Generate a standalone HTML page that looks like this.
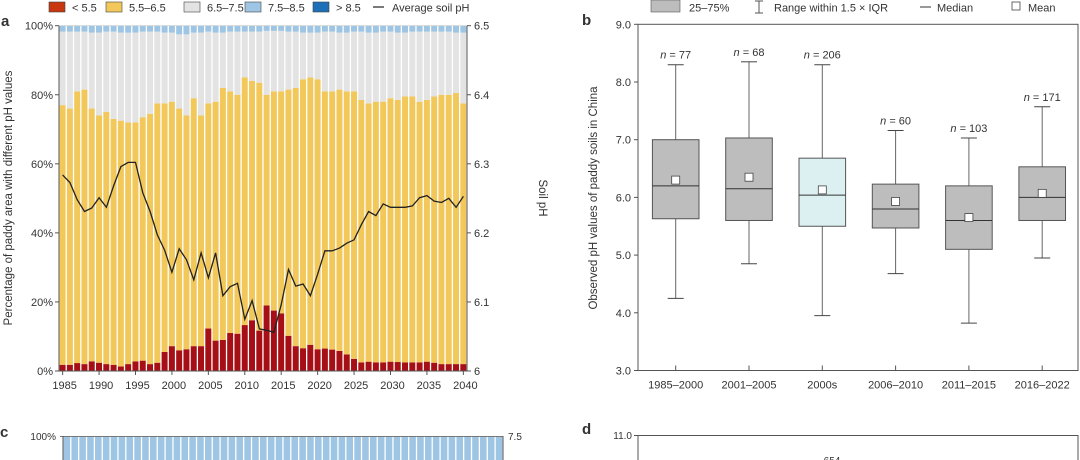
<!DOCTYPE html>
<html><head><meta charset="utf-8">
<style>
body{margin:0;background:#fff;width:1080px;height:460px;overflow:hidden;font-family:"Liberation Sans",sans-serif;}
svg{display:block}
text{font-family:"Liberation Sans",sans-serif;fill:#333;}
</style></head>
<body>
<svg id="chart" width="1080" height="460"></svg>
<script>
// Panel a data
const years=[];for(let y=1985;y<=2040;y++)years.push(y);
const redPct=[1.8,1.8,2.3,2,2.8,2.4,2,1.8,1.3,2, 2.8,3,2,2.4,5.5,7.2,6,6.3,7.2,7.2, 12.3,8.8,9,11,10.8,13.3,14.7,11.7,19,17.5, 16.7,10.2,7.2,6.6,7.6,6.3,6.5,6.2,5.8,4.8, 3.5,2.5,2.7,2.5,2.5,2.7,2.6,2.5,2.5,2.5, 2.7,2.4,2,2,2,2];
const yellowTop=[77,76,81,81.5,76,74,75,73,72.5,72, 72,73.5,74.5,77.5,77.5,78,76,74,79,74, 77.5,78,82,81,80,85,84,83.5,80,81, 81,81.5,82,84.5,85,84.5,81,81,81.5,81, 81,78.5,77.5,78,78,79,78.5,79.5,79.5,78, 78.5,79.5,80,80,80.5,77.5];
const greyTop=[98.3,98.3,98.3,98.3,98,98,98.3,98.3,98,98, 98,98.3,98.3,98.3,98,98,97.5,97.5,98,98, 98.3,98,98,98.3,98.3,98.3,98.3,98.3,98.5,98.5, 98.5,98.3,98.3,98,98,98,98.3,98.3,98,98, 98.3,98.3,98,98,98.3,98.3,98,98,98.3,98.3, 98.3,98.3,98.3,98.3,98,98];
const avgPH=[6.284,6.273,6.248,6.231,6.236,6.251,6.237,6.268,6.296,6.302, 6.302,6.258,6.231,6.197,6.175,6.143,6.177,6.161,6.132,6.171, 6.135,6.171,6.109,6.122,6.127,6.075,6.102,6.061,6.059,6.056, 6.096,6.147,6.123,6.126,6.109,6.140,6.174,6.174,6.178,6.185, 6.190,6.212,6.231,6.225,6.242,6.237,6.237,6.237,6.239,6.251, 6.254,6.246,6.244,6.250,6.237,6.253];
const yTicksA=[0,20,40,60,80,100];
const yTicksPH=[6,6.1,6.2,6.3,6.4,6.5];
const xTickYears=[1985,1990,1995,2000,2005,2010,2015,2020,2025,2030,2035,2040];
// Panel b data
const groups=["1985–2000","2001–2005","2000s","2006–2010","2011–2015","2016–2022"];
const q1=[5.63,5.6,5.5,5.47,5.1,5.6];
const q3=[7.0,7.03,6.68,6.23,6.2,6.53];
const med=[6.2,6.15,6.04,5.8,5.6,6.0];
const mean=[6.3,6.35,6.13,5.93,5.65,6.07];
const wLo=[4.25,4.85,3.95,4.68,3.82,4.95];
const wHi=[8.3,8.35,8.3,7.16,7.03,7.57];
const nVals=[77,68,206,60,103,171];
const yTicksB=[3,4,5,6,7,8,9];

const svg=document.getElementById('chart');
const NS='http://www.w3.org/2000/svg';
function el(tag,attrs,parent,txt){const e=document.createElementNS(NS,tag);for(const k in attrs)e.setAttribute(k,attrs[k]);if(txt!==undefined)e.textContent=txt;(parent||svg).appendChild(e);return e;}

// ---- Panel a ----
const aL=59,aR=467,aT=25.7,aB=371;
const bw=(aR-aL)/years.length;
const ya=p=>aB-(aB-aT)*p/100;
const yph=v=>aB-(aB-aT)*(v-6)/0.5;
const xa=i=>aL+bw*i;
const ga=el('g',{});

years.forEach((yr,i)=>{
  const x=xa(i)+0.6,w=bw-1.3;
  const segs=[[0,redPct[i],'#a50f15','bar-lt55'],[redPct[i],yellowTop[i],'#f2c85b','bar-55-65'],[yellowTop[i],greyTop[i],'#e3e3e3','bar-65-75'],[greyTop[i],100,'#9ec5e3','bar-75-85']];
  segs.forEach(s=>{const r=el('rect',{x:x,y:ya(s[1]),width:w,height:ya(s[0])-ya(s[1]),fill:s[2]},ga);
    });
});
let pts=avgPH.map((v,i)=>(xa(i)+bw/2).toFixed(1)+','+yph(v).toFixed(1)).join(' ');
const ln=el('polyline',{points:pts,fill:'none',stroke:'#222','stroke-width':1.3},ga);

el('line',{x1:aL,y1:aT,x2:aL,y2:aB,stroke:'#555'},ga);
el('line',{x1:aR,y1:aT,x2:aR,y2:aB,stroke:'#555'},ga);
el('line',{x1:aL,y1:aB,x2:aR,y2:aB,stroke:'#555'},ga);
el('line',{x1:aL,y1:aT,x2:aR,y2:aT,stroke:'#bbb','stroke-width':0.5},ga);
yTicksA.forEach(t=>{el('line',{x1:aL-4,y1:ya(t),x2:aL,y2:ya(t),stroke:'#555'},ga);
  const tx=el('text',{x:aL-6,y:ya(t)+4,'font-size':11,'text-anchor':'end'},ga,t+'%');});
yTicksPH.forEach(t=>{el('line',{x1:aR,y1:yph(t),x2:aR+4,y2:yph(t),stroke:'#555'},ga);
  const tx=el('text',{x:aR+7,y:yph(t)+4,'font-size':11},ga,String(t));});
xTickYears.forEach(yr=>{const i=years.indexOf(yr);const x=xa(i)+bw/2;
  el('line',{x1:x,y1:aB,x2:x,y2:aB+4,stroke:'#555'},ga);
  const tx=el('text',{x:x+2,y:aB+18,'font-size':11,'text-anchor':'middle'},ga,String(yr));});
</script>
<script>
// static labels panel a
(function(){
const svg=document.getElementById('chart');const NS='http://www.w3.org/2000/svg';
function el(tag,attrs,txt){const e=document.createElementNS(NS,tag);for(const k in attrs)e.setAttribute(k,attrs[k]);if(txt!==undefined)e.textContent=txt;svg.appendChild(e);return e;}
let t;
t=el('text',{x:1,y:26,'font-size':15,'font-weight':'bold',fill:'#000'},'a');
t=el('text',{x:12,y:198,'font-size':11.5,'text-anchor':'middle',transform:'rotate(-90 12 198)'},'Percentage of paddy area with different pH values');
t=el('text',{x:539,y:198,'font-size':11.5,'text-anchor':'middle',transform:'rotate(90 539 198)'},'Soil pH');
const leg=[[49,'#c8370f','< 5.5'],[106,'#f2c85b','5.5–6.5'],[184,'#e3e3e3','6.5–7.5'],[245,'#9ec5e3','7.5–8.5'],[313,'#1d6fb8','> 8.5']];
leg.forEach(l=>{const r=el('rect',{x:l[0],y:2,width:16,height:10,fill:l[1],stroke:'#444','stroke-width':0.6});
 const tx=el('text',{x:l[0]+23,y:11.5,'font-size':11},l[2]);});
el('line',{x1:373,y1:7,x2:384,y2:7,stroke:'#222','stroke-width':1.2});
t=el('text',{x:392,y:11.5,'font-size':11},'Average soil pH');
})();
</script>
<script>
// ---- Panel b ----
(function(){
const svg=document.getElementById('chart');const NS='http://www.w3.org/2000/svg';
function el(tag,attrs,parent,txt){const e=document.createElementNS(NS,tag);for(const k in attrs)e.setAttribute(k,attrs[k]);if(txt!==undefined)e.textContent=txt;(parent||svg).appendChild(e);return e;}
const bL=638,bR=1078,bT=24.3,bB=370.5;
const yb=v=>bB-(bB-bT)*(v-3)/6;
const xb=i=>675.7+73.3*i;
const gb=el('g',{});
el('rect',{x:bL,y:bT,width:bR-bL,height:bB-bT,fill:'none',stroke:'#555'},gb);
yTicksB.forEach(t=>{el('line',{x1:bL-4,y1:yb(t),x2:bL,y2:yb(t),stroke:'#555'},gb);
  const tx=el('text',{x:bL-7,y:yb(t)+4,'font-size':11,'text-anchor':'end'},gb,t.toFixed(1));});
groups.forEach((g,i)=>{const x=xb(i),hw=23.3;
  el('line',{x1:x,y1:bB,x2:x,y2:bB-5,stroke:'#555'},gb);
  const tx=el('text',{x:x,y:bB+18,'font-size':11,'text-anchor':'middle'},gb,g);
  const wk=el('line',{x1:x,y1:yb(wLo[i]),x2:x,y2:yb(wHi[i]),stroke:'#666'},gb);
  el('line',{x1:x-8,y1:yb(wLo[i]),x2:x+8,y2:yb(wLo[i]),stroke:'#444'},gb);
  el('line',{x1:x-8,y1:yb(wHi[i]),x2:x+8,y2:yb(wHi[i]),stroke:'#444'},gb);
  const bx=el('rect',{x:x-hw,y:yb(q3[i]),width:hw*2,height:yb(q1[i])-yb(q3[i]),fill:i===2?'#dcf0f2':'#bdbdbd',stroke:'#555','stroke-width':1},gb);
  
  const md=el('line',{x1:x-hw,y1:yb(med[i]),x2:x+hw,y2:yb(med[i]),stroke:'#333','stroke-width':1},gb);
  const mn=el('rect',{x:x-4,y:yb(mean[i])-4,width:8,height:8,fill:'#fff',stroke:'#444','stroke-width':0.8},gb);
  const nt=el('text',{x:x,y:yb(wHi[i])-6,'font-size':11,'text-anchor':'middle'},gb);
  
  el('tspan',{'font-style':'italic'},nt,'n');el('tspan',{},nt,' = '+nVals[i]);
});
let t=el('text',{x:582,y:25,'font-size':15,'font-weight':'bold',fill:'#000'},svg,'b');
t=el('text',{x:597,y:198,'font-size':11.5,'text-anchor':'middle',transform:'rotate(-90 597 198)'},svg,'Observed pH values of paddy soils in China');
// legend b
let r=el('rect',{x:651,y:0,width:29,height:12,fill:'#bdbdbd',stroke:'#555','stroke-width':0.6});
t=el('text',{x:689,y:11.5,'font-size':11},svg,'25–75%');
el('line',{x1:759,y1:1,x2:759,y2:13,stroke:'#555'});el('line',{x1:755,y1:1,x2:763,y2:1,stroke:'#555'});el('line',{x1:755,y1:13,x2:763,y2:13,stroke:'#555'});
t=el('text',{x:774,y:11.5,'font-size':11},svg,'Range within 1.5 × IQR');
el('line',{x1:920,y1:7,x2:931,y2:7,stroke:'#333'});
t=el('text',{x:937,y:11.5,'font-size':11},svg,'Median');
el('rect',{x:1012,y:2,width:8,height:8,fill:'#fff',stroke:'#444','stroke-width':0.8});
t=el('text',{x:1028,y:11.5,'font-size':11},svg,'Mean');

// ---- bottom panels c, d (cropped) ----
t=el('text',{x:0,y:437,'font-size':15,'font-weight':'bold',fill:'#000'},svg,'c');
t=el('text',{x:56,y:440,'font-size':10,'text-anchor':'end'},svg,'100%');
const cL=63,cR=503,cn=56,cw=(cR-cL)/cn;
for(let i=0;i<cn;i++){const b=el('rect',{x:cL+i*cw+0.6,y:437,width:cw-1.3,height:23,fill:'#9ec5e3'});}
el('line',{x1:cL-3,y1:436.5,x2:cR,y2:436.5,stroke:'#777'});
el('line',{x1:cL,y1:436,x2:cL,y2:460,stroke:'#555'});el('line',{x1:cR,y1:436,x2:cR,y2:460,stroke:'#555'});
t=el('text',{x:508,y:440,'font-size':10},svg,'7.5');
t=el('text',{x:582,y:434,'font-size':15,'font-weight':'bold',fill:'#000'},svg,'d');
t=el('text',{x:632,y:439,'font-size':10,'text-anchor':'end'},svg,'11.0');
el('line',{x1:634,y1:435.5,x2:1078,y2:435.5,stroke:'#555'});el('line',{x1:638,y1:435,x2:638,y2:460,stroke:'#555'});el('line',{x1:1078,y1:435,x2:1078,y2:460,stroke:'#555'});
t=el('text',{x:832,y:464,'font-size':10,'text-anchor':'middle'},svg,'654');
})();
</script>
</body></html>
